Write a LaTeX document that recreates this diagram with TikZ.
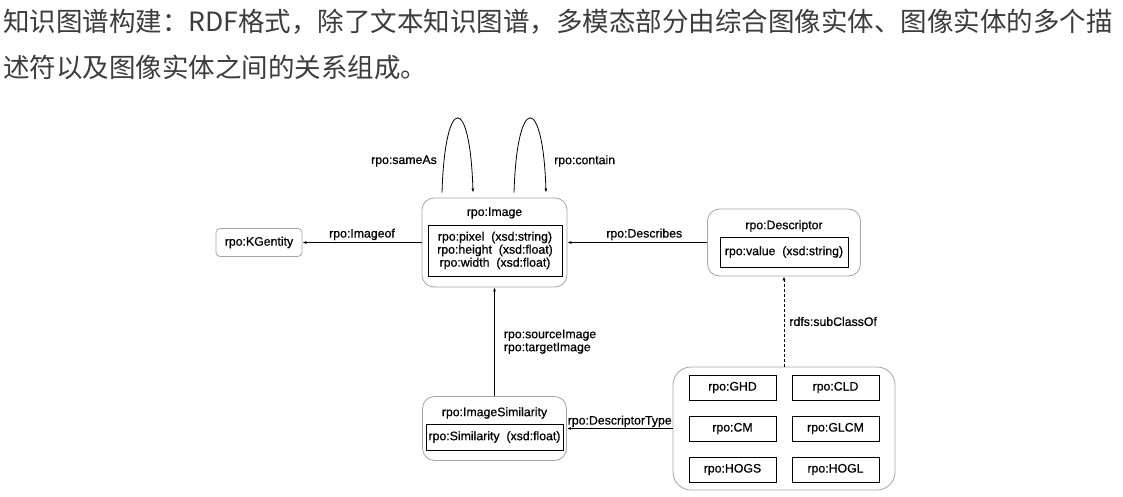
\documentclass[tikz,border=0pt]{standalone}
\usepackage{fontspec}
\setmainfont{Liberation Sans}
\newfontfamily\cjk{Noto Sans CJK SC}
\newfontfamily\lblfont[FakeBold=0.6]{Liberation Sans}
\usetikzlibrary{arrows.meta}
\definecolor{headgray}{RGB}{60,60,60}
\definecolor{framegray}{RGB}{165,165,165}
\begin{document}
\begin{tikzpicture}[
        x=1pt, y=-1pt,
        every node/.style = {font=\lblfont\fontsize{12.3}{13}\selectfont, inner sep=1pt},
        heading/.style = {anchor=west, text=headgray, inner sep=0pt, font=\cjk\fontsize{26.5}{30}\selectfont},
        cls/.style = {draw=framegray, line width=0.8pt, rounded corners=12pt},
        attrs/.style = {draw, line width=0.7pt, align=center},
        kind/.style = {draw, line width=0.7pt, minimum width=87pt, minimum height=25pt},
        rel/.style = {-{Latex[length=4pt,width=3pt]}, line width=0.8pt},
    ]
    \useasboundingbox[fill=white] (0,0) rectangle (1123,497);

    \node (head1) at (3,22) [heading] {知识图谱构建：RDF格式，除了文本知识图谱，多模态部分由综合图像实体、图像实体的多个描};
    \node (head2) at (3,67) [heading] {述符以及图像实体之间的关系组成。};

    % classes
    \node (kg) at (259,242.5) [cls, rounded corners=4pt, minimum width=86pt, minimum height=28pt] {rpo:KGentity};

    \node (img) at (494.5,242.5) [cls, minimum width=145pt, minimum height=89pt] {};
    \node (imgT) at (494.5,213) {rpo:Image};
    \node (imgA) at (495,250.5) [attrs, minimum width=134pt, minimum height=51pt]
        {rpo:pixel\ \ (xsd:string)\\ rpo:height\ \ (xsd:float)\\ rpo:width\ \ (xsd:float)};

    \node (desc) at (784,242.5) [cls, minimum width=153pt, minimum height=67pt] {};
    \node (descT) at (784,226) {rpo:Descriptor};
    \node (descA) at (784,252) [attrs, minimum width=128pt, minimum height=30pt] {rpo:value\ \ (xsd:string)};

    \node (sim) at (494.5,428.5) [cls, minimum width=144pt, minimum height=64pt] {};
    \node (simT) at (494.5,413) {rpo:ImageSimilarity};
    \node (simA) at (494.5,437) [attrs, minimum width=137pt, minimum height=26pt] {rpo:Similarity\ \ (xsd:float)};

    % descriptor types
    \node (dtype) at (784,428.5) [cls, rounded corners=18pt, minimum width=222pt, minimum height=123pt] {};
    \node (ghd) at (732.5,387.5) [kind] {rpo:GHD};
    \node (cld) at (835.5,387.5) [kind] {rpo:CLD};
    \node (cm) at (732.5,428.5) [kind] {rpo:CM};
    \node (glcm) at (835.5,428.5) [kind] {rpo:GLCM};
    \node (hogs) at (732.5,469.5) [kind] {rpo:HOGS};
    \node (hogl) at (835.5,469.5) [kind] {rpo:HOGL};

    % relations
    \draw[rel] ([xshift=-52.5pt,yshift=5pt]img.north) .. controls +(3,-99) and +(-3,-99) .. ([xshift=-21.5pt,yshift=5pt]img.north);
    \draw[rel] ([xshift=19.5pt,yshift=5pt]img.north) .. controls +(3,-99) and +(-3,-99) .. ([xshift=51.5pt,yshift=5pt]img.north);
    \node (sameAs) at (438,161) [anchor=east] {rpo:sameAs};
    \node (contain) at (553,161) [anchor=west] {rpo:contain};

    \draw[rel] (img.west) -- node[above=1pt] {rpo:Imageof} (kg.east);
    \draw[rel] (desc.west) -- node[above=1pt, xshift=7pt] {rpo:Describes} (img.east);
    \draw[rel] (sim.north) -- node[right=8pt, align=left] {rpo:sourceImage\\rpo:targetImage} (img.south);
    \draw[rel] (dtype.west) -- node[above=0pt] {rpo:DescriptorType} (sim.east);
    \draw[rel, dash pattern=on 3pt off 2pt] (dtype.north) -- node[right=4pt] {rdfs:subClassOf} (desc.south);
\end{tikzpicture}
\end{document}
